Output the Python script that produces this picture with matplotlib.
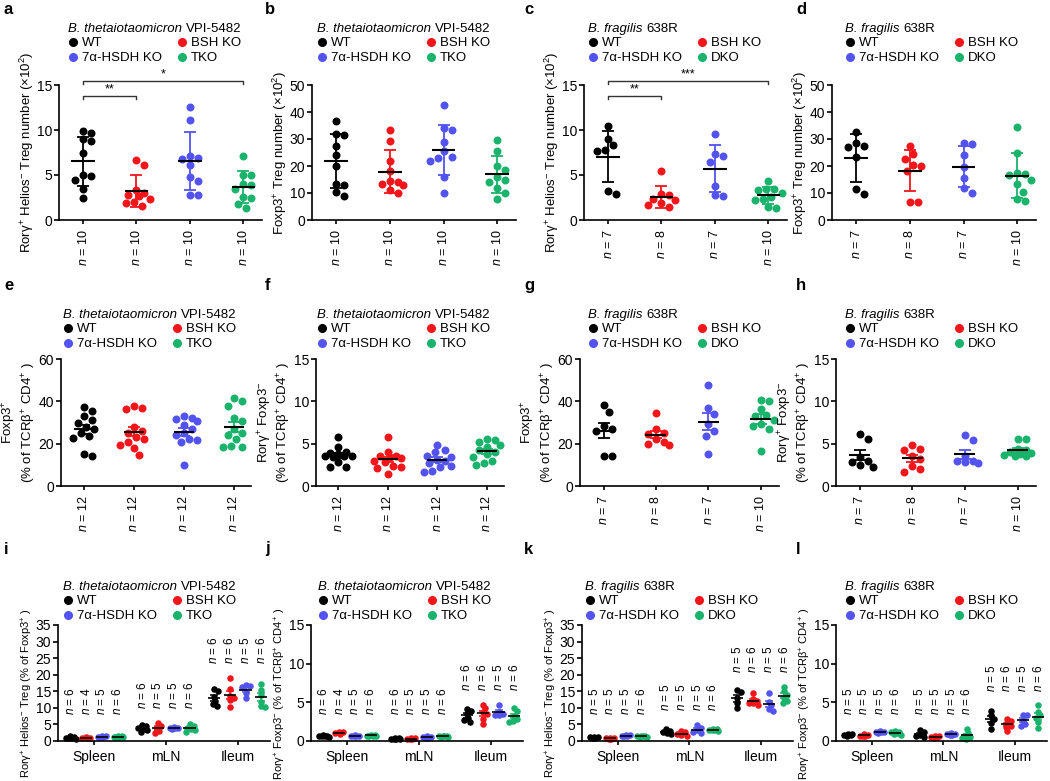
import numpy as np
import matplotlib.pyplot as plt
from matplotlib.lines import Line2D

plt.rcParams['font.family'] = ['Liberation Sans', 'DejaVu Sans']
plt.rcParams['mathtext.fontset'] = 'custom'
plt.rcParams['mathtext.rm'] = 'Liberation Sans'
plt.rcParams['mathtext.it'] = 'Liberation Sans:italic'
plt.rcParams['mathtext.bf'] = 'Liberation Sans:bold'
plt.rcParams['axes.linewidth'] = 1.2

# groups / colours
names_bt = ['WT', 'BSH KO', '7α-HSDH KO', 'TKO']
names_bf = ['WT', 'BSH KO', '7α-HSDH KO', 'DKO']
colors = ['#000000', '#f2161b', '#5353f2', '#19b36b']
tissues = ['Spleen', 'mLN', 'Ileum']
strain_bt = ('B. thetaiotaomicron', 'VPI-5482')
strain_bf = ('B. fragilis', '638R')

# a-d: cell numbers (x10^2), mean +/- SD
a_vals = [[9.9, 9.7, 8.8, 9.0, 7.4, 5.0, 4.4, 4.9, 3.5, 2.5],
          [6.7, 6.1, 3.3, 3.0, 2.7, 2.3, 2.0, 1.6, 1.9, 2.8],
          [12.6, 11.1, 7.1, 6.8, 6.9, 6.1, 4.8, 4.3, 2.8, 2.8],
          [7.1, 5.0, 5.0, 3.9, 4.0, 3.5, 2.6, 2.5, 1.8, 1.3]]
b_vals = [[36.5, 32.0, 31.5, 27.5, 24.0, 20.0, 13.5, 13.0, 10.5, 9.0],
          [33.3, 29.2, 22.0, 18.0, 14.5, 14.0, 13.3, 13.0, 11.0, 10.0],
          [42.7, 34.0, 33.2, 29.0, 25.5, 23.5, 23.0, 22.0, 16.0, 10.0],
          [29.8, 25.5, 20.0, 18.5, 16.0, 15.0, 14.0, 12.0, 10.0, 7.8]]
c_vals = [[10.4, 9.0, 8.3, 7.8, 7.7, 3.2, 2.9],
          [5.4, 2.9, 2.8, 2.3, 2.2, 1.7, 1.5, 1.9],
          [9.6, 7.3, 7.1, 6.5, 3.8, 2.8, 2.7],
          [4.3, 3.5, 3.4, 3.3, 3.0, 2.6, 2.3, 2.2, 1.4, 1.3]]
d_vals = [[32.7, 28.5, 27.5, 27.0, 23.5, 11.3, 9.8],
          [27.3, 24.5, 22.5, 20.5, 20.0, 18.0, 6.8, 6.8],
          [28.7, 28.3, 24.2, 19.5, 15.5, 11.8, 10.0],
          [34.3, 25.0, 17.5, 17.2, 16.8, 15.0, 13.2, 10.5, 7.8, 7.0]]
a_sig = [(0, 1, '**'), (0, 3, '*')]
c_sig = [(0, 1, '**'), (0, 3, '***')]

# e-h: % of TCRb+ CD4+, mean +/- SEM
e_vals = [[37.5, 35.5, 33.0, 31.0, 30.0, 28.0, 27.0, 25.0, 23.5, 22.5, 15.0, 14.0],
          [38.0, 37.0, 36.5, 28.0, 26.0, 25.0, 23.0, 22.0, 21.0, 19.5, 18.0, 14.5],
          [33.0, 32.0, 31.5, 30.5, 29.0, 27.0, 25.0, 24.0, 22.0, 21.5, 21.0, 9.7],
          [41.5, 40.0, 38.0, 32.0, 30.5, 27.0, 25.0, 24.0, 22.0, 19.0, 18.5, 18.5]]
f_vals = [[5.8, 4.6, 4.0, 3.9, 3.8, 3.6, 3.5, 3.4, 3.5, 2.8, 2.2, 2.3],
          [5.8, 4.0, 3.6, 3.5, 3.4, 3.3, 3.0, 2.8, 2.4, 2.3, 2.1, 1.4],
          [4.9, 4.2, 4.0, 3.6, 3.4, 3.1, 3.0, 2.7, 2.4, 2.2, 1.8, 1.7],
          [5.6, 5.4, 5.2, 4.8, 4.6, 4.2, 4.0, 3.8, 3.4, 3.0, 2.7, 2.5]]
g_vals = [[38.5, 35.0, 28.5, 27.0, 26.0, 14.0, 14.0],
          [34.3, 27.0, 25.0, 24.5, 22.0, 21.0, 20.0, 19.5],
          [47.8, 37.0, 34.0, 29.5, 26.0, 23.5, 15.0],
          [40.5, 40.0, 36.5, 33.5, 33.0, 31.0, 29.5, 28.5, 27.0, 16.5]]
h_vals = [[6.2, 5.5, 3.4, 3.0, 2.8, 2.5, 2.3],
          [4.8, 4.4, 4.2, 3.6, 3.2, 2.4, 2.0, 1.7],
          [6.0, 5.4, 3.5, 3.0, 2.8, 2.7, 2.9],
          [5.6, 5.6, 4.4, 4.2, 4.0, 3.9, 3.8, 3.7, 3.6, 3.5]]

# i-l: per tissue, mean +/- SEM
i_spleen = [[1.3, 1.0, 0.9, 0.8, 0.7, 1.5], [1.0, 1.1, 0.9, 1.0],
            [1.3, 1.4, 1.2, 1.5, 1.1], [1.2, 1.4, 1.3, 1.1, 1.5, 1.3]]
i_mln = [[4.7, 4.4, 4.0, 3.6, 3.2, 2.6], [5.5, 4.6, 4.0, 3.0, 2.3],
         [4.2, 4.0, 3.9, 3.8, 3.7], [5.0, 4.4, 4.0, 3.6, 3.2, 2.8]]
i_ileum = [[15.8, 15.0, 13.4, 12.2, 11.3, 10.6], [19.0, 15.7, 13.6, 13.0, 12.3, 10.2],
           [17.0, 16.6, 16.3, 14.5, 13.0], [17.3, 15.5, 13.8, 11.8, 10.5, 10.2]]
j_spleen = [[0.8, 0.7, 0.6, 0.5, 0.7, 0.6], [1.2, 1.1, 1.0, 0.9],
            [0.7, 0.6, 0.8, 0.7, 0.6], [0.8, 0.7, 0.6, 0.7, 0.8, 0.7]]
j_mln = [[0.4, 0.3, 0.3, 0.2, 0.35, 0.25], [0.4, 0.3, 0.3, 0.25, 0.35],
         [0.6, 0.5, 0.5, 0.4, 0.45], [0.7, 0.6, 0.55, 0.5, 0.65, 0.6]]
j_ileum = [[4.2, 3.9, 3.5, 3.0, 2.7, 2.5], [4.7, 4.3, 3.8, 3.5, 2.9, 2.2],
           [4.7, 3.7, 3.5, 3.4, 3.3], [4.3, 3.9, 3.2, 2.8, 2.6, 2.5]]
k_spleen = [[1.3, 1.1, 1.0, 0.9, 1.2], [1.0, 0.8, 0.7, 0.6, 0.9],
            [1.8, 1.6, 1.5, 1.4, 1.7], [1.5, 1.4, 1.3, 1.2, 1.6, 1.4]]
k_mln = [[3.7, 3.0, 2.7, 2.4, 2.0], [3.0, 2.6, 2.2, 1.8, 1.6],
         [4.8, 4.0, 3.2, 2.8, 2.5], [3.6, 3.4, 3.3, 3.1, 3.2, 3.5]]
k_ileum = [[15.3, 14.7, 13.0, 11.5, 10.0], [14.5, 12.8, 12.0, 11.5, 11.0, 11.5],
           [14.6, 11.8, 10.8, 9.8, 9.0], [16.3, 15.0, 14.0, 13.0, 12.0, 11.5]]
l_spleen = [[0.9, 0.8, 0.8, 0.7, 0.9], [0.9, 0.8, 0.7, 0.6, 0.7],
            [1.3, 1.2, 1.1, 1.2, 1.0], [1.3, 1.1, 1.0, 0.9, 0.8, 1.2]]
l_mln = [[1.4, 1.1, 0.8, 0.6, 0.5], [0.7, 0.6, 0.5, 0.4, 0.5],
         [1.0, 0.9, 0.9, 0.8, 0.8], [1.5, 1.0, 0.7, 0.5, 0.3, 0.4]]
l_ileum = [[3.9, 3.3, 2.9, 2.3, 1.6], [2.9, 2.6, 2.3, 2.0, 1.8, 1.3],
           [3.4, 3.3, 2.6, 2.2, 2.0], [4.6, 3.8, 3.3, 3.0, 2.5, 1.7]]

lab_treg_num = 'Rorγ$^{+}$ Helios$^{-}$ Treg number (×10$^{2}$)'
lab_foxp3_num = 'Foxp3$^{+}$ Treg number (×10$^{2}$)'
lab_foxp3_pct = 'Foxp3$^{+}$\n(% of TCRβ$^{+}$ CD4$^{+}$ )'
lab_ror_pct2 = 'Rorγ$^{+}$ Foxp3$^{-}$\n(% of TCRβ$^{+}$ CD4$^{+}$ )'
lab_treg_pct = 'Rorγ$^{+}$ Helios$^{-}$ Treg (% of Foxp3$^{+}$ )'
lab_ror_pct = 'Rorγ$^{+}$ Foxp3$^{-}$ (% of TCRβ$^{+}$ CD4$^{+}$ )'

W, H = 1050, 781
fig = plt.figure(figsize=(W / 100, H / 100), dpi=100)
renderer = fig.canvas.get_renderer()


def add_ax(left, top, width, height):
    return fig.add_axes([left / W, 1 - (top + height) / H, width / W, height / H])


def swarm_x(ax, xc, vals, diam, max_half):
    # simple beeswarm in pixel space
    pos = ax.get_position()
    x0, x1 = ax.get_xlim()
    y0, y1 = ax.get_ylim()
    ppx = pos.width * W / (x1 - x0)
    ppy = pos.height * H / (y1 - y0)
    ypx = np.asarray(vals, float) * ppy
    step = diam / 3.0
    cands = [0.0]
    k = 1
    while k * step <= max_half:
        cands += [k * step, -k * step]
        k += 1
    px, py = [], []
    out = np.zeros(len(ypx))
    for i in np.argsort(-ypx, kind='stable'):
        best, best_d = 0.0, -1.0
        for c in cands:
            d = np.min(np.hypot(np.array(px) - c, np.array(py) - ypx[i])) if px else np.inf
            if d >= diam:
                best = c
                break
            if d > best_d:
                best, best_d = c, d
        out[i] = best
        px.append(best)
        py.append(ypx[i])
    return xc + out / ppx


def style(ax, ymax, ystep, ylabel, fs=9.5, ly=0.5):
    ax.spines['top'].set_visible(False)
    ax.spines['right'].set_visible(False)
    ax.set_ylim(0, ymax)
    ax.set_yticks(np.arange(0, ymax + 0.01, ystep))
    ax.tick_params(axis='y', length=3.5, width=1.2, labelsize=10, pad=1.5)
    ax.tick_params(axis='x', length=3, width=1.2)
    ax.set_ylabel(ylabel, fontsize=fs, labelpad=0.5, y=ly, linespacing=1.1)


def legend(ax, strain, names, tx, ty):
    t1 = fig.text(tx / W, 1 - ty / H, strain[0], fontsize=9.5, style='italic', va='center', ha='left')
    bb = t1.get_window_extent(renderer)
    fig.text((bb.x1 + 3.5) / W, 1 - ty / H, strain[1], fontsize=9.5, va='center', ha='left')
    hs = [Line2D([], [], marker='o', ls='none', color=colors[k], markersize=5.5)
          for k in (0, 2, 1, 3)]
    labs = [names[k] for k in (0, 2, 1, 3)]
    ax.legend(hs, labs, ncol=2, frameon=False, fontsize=9.5, loc='upper left',
              bbox_to_anchor=((tx + 1) / W, 1 - (ty + 8) / H), bbox_transform=fig.transFigure,
              borderpad=0, borderaxespad=0, handlelength=0.6, handletextpad=0.4,
              columnspacing=1.2, labelspacing=0.22)


def dot_panel(ax, vals, sd, ymax, ystep, ylabel, sig=None):
    ax.set_xlim(-0.45, 3.35)
    style(ax, ymax, ystep, ylabel)
    for k, v in enumerate(vals):
        v = np.asarray(v, float)
        xs = swarm_x(ax, k, v, 8, 14)
        ax.scatter(xs, v, s=33, color=colors[k], linewidths=0, zorder=2, clip_on=False)
        m = v.mean()
        e = v.std(ddof=1)
        if not sd:
            e = e / np.sqrt(len(v))
        ax.errorbar(k, m, yerr=e, fmt='none', ecolor=colors[k], elinewidth=1.3,
                    capsize=4.5, capthick=1.3, zorder=3)
        half = 0.22 if sd else 0.2
        ax.hlines(m, k - half, k + half, color='black', lw=1.5, zorder=4)
    ax.set_xticks(range(len(vals)))
    ax.set_xticklabels(['$n$ = %d' % len(v) for v in vals], rotation=90, fontsize=9)
    if sig:
        for j, (g0, g1, star) in enumerate(sig):
            y = ymax * (0.92 if j == 0 else 1.03)
            t = ymax * 0.025
            ax.plot([g0, g0, g1, g1], [y - t, y, y, y - t], color='#333333', lw=1.0, clip_on=False)
            ax.text((g0 + g1) / 2, y + ymax * 0.005, star, ha='center', va='bottom', fontsize=9)


def tissue_panel(ax, groups, ymax, ystep, ylabel):
    ax.set_xlim(-0.5, 2.45)
    style(ax, ymax, ystep, ylabel, fs=8, ly=0.41)
    offs = [-0.33, -0.11, 0.11, 0.33]
    for g, gv in enumerate(groups):
        top = max(max(v) for v in gv)
        ylab = max(top + 0.12 * ymax, 0.22 * ymax)
        for k, v in enumerate(gv):
            v = np.asarray(v, float)
            x = g + offs[k]
            xs = swarm_x(ax, x, v, 4, 6)
            ax.scatter(xs, v, s=22, color=colors[k], linewidths=0, zorder=2, clip_on=False)
            m = v.mean()
            e = v.std(ddof=1) / np.sqrt(len(v))
            ax.errorbar(x, m, yerr=e, fmt='none', ecolor=colors[k], elinewidth=1.1,
                        capsize=3, capthick=1.1, zorder=3)
            ax.hlines(m, x - 0.085, x + 0.085, color='black', lw=1.2, zorder=4)
            ax.text(x, ylab, '$n$ = %d' % len(v), rotation=90, ha='center', va='bottom',
                    fontsize=8.5)
    ax.set_xticks(range(3))
    ax.set_xticklabels(tissues, fontsize=10)


# ---- layout (pixels) ----
row1 = [(59, 203), (312, 204), (584, 203), (832, 204)]
row2 = [(61, 190), (316, 188), (580, 199), (836, 200)]
row3 = [(58, 212), (311, 212), (582, 211), (836, 211)]
title_x1 = [68, 317, 588, 845]
title_x2 = [63, 317, 588, 845]
title_x3 = [63, 318, 585, 845]
letter_x = [4, 265, 524, 796]

panels1 = [(a_vals, 15, 5, lab_treg_num, a_sig, strain_bt, names_bt),
           (b_vals, 50, 10, lab_foxp3_num, None, strain_bt, names_bt),
           (c_vals, 15, 5, lab_treg_num, c_sig, strain_bf, names_bf),
           (d_vals, 50, 10, lab_foxp3_num, None, strain_bf, names_bf)]
panels2 = [(e_vals, 60, 20, lab_foxp3_pct, strain_bt, names_bt),
           (f_vals, 15, 5, lab_ror_pct2, strain_bt, names_bt),
           (g_vals, 60, 20, lab_foxp3_pct, strain_bf, names_bf),
           (h_vals, 15, 5, lab_ror_pct2, strain_bf, names_bf)]
panels3 = [([i_spleen, i_mln, i_ileum], 35, 5, lab_treg_pct, strain_bt, names_bt),
           ([j_spleen, j_mln, j_ileum], 15, 5, lab_ror_pct, strain_bt, names_bt),
           ([k_spleen, k_mln, k_ileum], 35, 5, lab_treg_pct, strain_bf, names_bf),
           ([l_spleen, l_mln, l_ileum], 15, 5, lab_ror_pct, strain_bf, names_bf)]

for c, ((left, w), (vals, ymax, ystep, lab, sig, strain, nm)) in enumerate(zip(row1, panels1)):
    ax = add_ax(left, 85, w, 135)
    dot_panel(ax, vals, True, ymax, ystep, lab, sig)
    legend(ax, strain, nm, title_x1[c], 29)
    fig.text(letter_x[c] / W, 1 - 10 / H, 'abcd'[c], fontsize=12, fontweight='bold', va='center')

for c, ((left, w), (vals, ymax, ystep, lab, strain, nm)) in enumerate(zip(row2, panels2)):
    ax = add_ax(left, 359, w, 127)
    dot_panel(ax, vals, False, ymax, ystep, lab)
    legend(ax, strain, nm, title_x2[c], 315)
    fig.text(letter_x[c] / W, 1 - 286 / H, 'efgh'[c], fontsize=12, fontweight='bold', va='center')

for c, ((left, w), (groups, ymax, ystep, lab, strain, nm)) in enumerate(zip(row3, panels3)):
    ax = add_ax(left, 625, w, 116)
    tissue_panel(ax, groups, ymax, ystep, lab)
    legend(ax, strain, nm, title_x3[c], 587)
    fig.text(letter_x[c] / W, 1 - 549 / H, 'ijkl'[c], fontsize=12, fontweight='bold', va='center')

fig.savefig('out.png', dpi=100, facecolor='white')
